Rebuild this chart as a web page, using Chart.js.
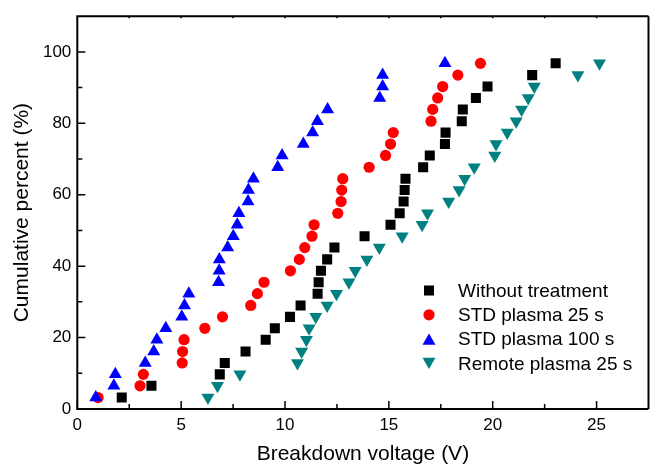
<!DOCTYPE html>
<html><head><meta charset="utf-8">
<script src="https://cdn.jsdelivr.net/npm/chart.js@4/dist/chart.umd.min.js"></script>
<style>
html,body{margin:0;padding:0;overflow:hidden;background:#fff;width:651px;height:465px}
#wrap{position:relative;width:656px;height:465px}
canvas{display:block}
</style></head>
<body><div id="wrap"><canvas id="c" width="656" height="465" style="width:656px;height:465px"></canvas></div>
<script>
// ---- data ----
const seriesNames = ['Without treatment', 'STD plasma 25 s', 'STD plasma 100 s', 'Remote plasma 25 s'];
const cumPercent = [3.2, 6.5, 9.7, 12.9, 16.1, 19.4, 22.6, 25.8, 29.0, 32.3, 35.5, 38.7, 41.9, 45.2, 48.4,
                    51.6, 54.8, 58.1, 61.3, 64.5, 67.7, 71.0, 74.2, 77.4, 80.6, 83.9, 87.1, 90.3, 93.5, 96.8];
const withoutTreatment = [2.14, 3.57, 6.86, 7.10, 8.10, 9.07, 9.51, 10.24, 10.75, 11.57, 11.62, 11.73, 12.03, 12.38, 13.83,
                          15.08, 15.52, 15.71, 15.76, 15.80, 16.65, 16.97, 17.70, 17.73, 18.51, 18.56, 19.19, 19.75, 21.90, 23.03];
const stdPlasma25 = [1.00, 3.02, 3.18, 5.05, 5.07, 5.14, 6.14, 6.99, 8.35, 8.67, 8.99, 10.26, 10.69, 10.95, 11.30,
                     11.40, 12.54, 12.70, 12.73, 12.78, 14.05, 14.84, 15.08, 15.21, 17.03, 17.11, 17.35, 17.59, 18.32, 19.41];
const stdPlasma100 = [0.89, 1.76, 1.83, 3.27, 3.68, 3.83, 4.26, 5.03, 5.16, 5.37, 6.80, 6.83, 6.84, 7.24, 7.51,
                      7.70, 7.78, 8.22, 8.24, 8.48, 9.65, 9.86, 10.88, 11.33, 11.56, 12.05, 14.56, 14.70, 14.70, 17.70];
const remotePlasma25 = [6.29, 6.75, 7.83, 10.60, 10.80, 11.03, 11.16, 11.48, 12.03, 12.48, 13.08, 13.38, 13.94, 14.54, 15.64,
                        16.60, 16.86, 17.88, 18.38, 18.65, 19.11, 20.10, 20.16, 20.70, 21.13, 21.39, 21.71, 22.00, 24.10, 25.14];
const xTickValues = [0, 5, 10, 15, 20, 25];
const xMinorTicks = [2.5, 7.5, 12.5, 17.5, 22.5];
const yTickValues = [0, 20, 40, 60, 80, 100];
const yMinorTicks = [10, 30, 50, 70, 90];

// ---- styles ----
const FONT = '"Liberation Sans", Arial, Helvetica, sans-serif';
const styles = [
  {color: '#000000', pointStyle: 'rect', radius: 7.1, rotation: 0, order: 4},
  {color: '#ff0000', pointStyle: 'circle', radius: 5.6, rotation: 0, order: 3},
  {color: '#0000ff', pointStyle: 'triangle', radius: 7.5, rotation: 0, order: 2},
  {color: '#008080', pointStyle: 'triangle', radius: 7.5, rotation: 180, order: 1}
];
const seriesX = [withoutTreatment, stdPlasma25, stdPlasma100, remotePlasma25];

const datasets = seriesX.map((xs, k) => ({
  label: seriesNames[k],
  data: xs.map((x, i) => ({x: x, y: cumPercent[i]})),
  backgroundColor: styles[k].color,
  borderColor: styles[k].color,
  pointBackgroundColor: styles[k].color,
  pointBorderWidth: 0,
  pointStyle: styles[k].pointStyle,
  pointRadius: styles[k].radius,
  pointHoverRadius: styles[k].radius,
  pointRotation: styles[k].rotation,
  showLine: false,
  order: styles[k].order
}));

function drawMarker(ctx, style, x, y) {
  const r = style.radius;
  ctx.save();
  ctx.fillStyle = style.color;
  ctx.beginPath();
  if (style.pointStyle === 'rect') {
    const s = r * Math.SQRT1_2;
    ctx.rect(x - s, y - s, 2 * s, 2 * s);
  } else if (style.pointStyle === 'circle') {
    ctx.arc(x, y, r, 0, Math.PI * 2);
  } else {
    let rad = style.rotation * Math.PI / 180;
    for (let j = 0; j < 3; j++) {
      const px = x + Math.sin(rad) * r, py = y - Math.cos(rad) * r;
      if (j === 0) ctx.moveTo(px, py); else ctx.lineTo(px, py);
      rad += 2 * Math.PI / 3;
    }
    ctx.closePath();
  }
  ctx.fill();
  ctx.restore();
}

const framePlugin = {
  id: 'frame',
  afterDatasetsDraw(chart) {
    const {ctx, chartArea: a, scales: {x, y}} = chart;
    ctx.save();
    ctx.strokeStyle = '#000';
    ctx.lineWidth = 2;
    ctx.beginPath();
    ctx.moveTo(a.left, a.top); ctx.lineTo(a.left, a.bottom);
    ctx.moveTo(a.left - 1, a.bottom); ctx.lineTo(a.right, a.bottom);
    ctx.moveTo(a.left - 1, a.top); ctx.lineTo(a.right, a.top);
    ctx.moveTo(a.right, a.top); ctx.lineTo(a.right, a.bottom);
    ctx.stroke();
    ctx.lineWidth = 1.5;
    ctx.beginPath();
    xTickValues.forEach(v => { const p = x.getPixelForValue(v);
      ctx.moveTo(p, a.bottom); ctx.lineTo(p, a.bottom - 8);
      ctx.moveTo(p, a.top); ctx.lineTo(p, a.top + 2); });
    xMinorTicks.forEach(v => { const p = x.getPixelForValue(v);
      ctx.moveTo(p, a.bottom); ctx.lineTo(p, a.bottom - 5);
      ctx.moveTo(p, a.top); ctx.lineTo(p, a.top + 2); });
    yTickValues.forEach(v => { const p = y.getPixelForValue(v);
      ctx.moveTo(a.left, p); ctx.lineTo(a.left + 8, p); });
    yMinorTicks.forEach(v => { const p = y.getPixelForValue(v);
      ctx.moveTo(a.left, p); ctx.lineTo(a.left + 5, p); });
    ctx.stroke();
    ctx.restore();
  }
};

const legendPlugin = {
  id: 'innerLegend',
  afterDraw(chart) {
    const ctx = chart.ctx;
    const mx = 429, tx = 458, y0 = 290.5, dy = 24.3;
    ctx.save();
    ctx.font = '19px ' + FONT;
    ctx.fillStyle = '#000';
    ctx.textBaseline = 'middle';
    ctx.textAlign = 'left';
    seriesNames.forEach((name, k) => {
      const yy = y0 + k * dy;
      const st = styles[k];
      const off = st.pointStyle === 'triangle' ? (st.rotation ? -1.8 : 1.8) : 0;
      drawMarker(ctx, st, mx, yy + off);
      ctx.fillText(name, tx, yy + 1);
    });
    ctx.restore();
  }
};

new Chart(document.getElementById('c'), {
  type: 'scatter',
  data: {datasets},
  options: {
    responsive: false,
    animation: false,
    devicePixelRatio: 1,
    layout: {padding: {top: 14.3, left: 0, right: 0, bottom: 0}},
    plugins: {legend: {display: false}, tooltip: {enabled: false}},
    scales: {
      x: {
        type: 'linear', min: 0, max: 27.5,
        grid: {display: false, drawTicks: false},
        border: {display: false},
        ticks: {color: '#000', font: {family: FONT, size: 17}, padding: 6},
        afterBuildTicks: s => { s.ticks = xTickValues.map(v => ({value: v})); },
        afterFit: s => { s.height = 56; },
        title: {display: true, text: 'Breakdown voltage (V)', color: '#000',
                font: {family: FONT, size: 21, lineHeight: 1}, padding: {top: 0, bottom: 0.5}}
      },
      y: {
        type: 'linear', min: 0, max: 110,
        grid: {display: false, drawTicks: false},
        border: {display: false},
        ticks: {color: '#000', font: {family: FONT, size: 17}, padding: 6},
        afterBuildTicks: s => { s.ticks = yTickValues.map(v => ({value: v})); },
        afterFit: s => { s.width = 77.3; },
        title: {display: true, text: 'Cumulative percent (%)', color: '#000',
                font: {family: FONT, size: 21, lineHeight: 1}, padding: {top: 11.5, bottom: 0}}
      }
    }
  },
  plugins: [framePlugin, legendPlugin]
});
</script>
</body></html>
